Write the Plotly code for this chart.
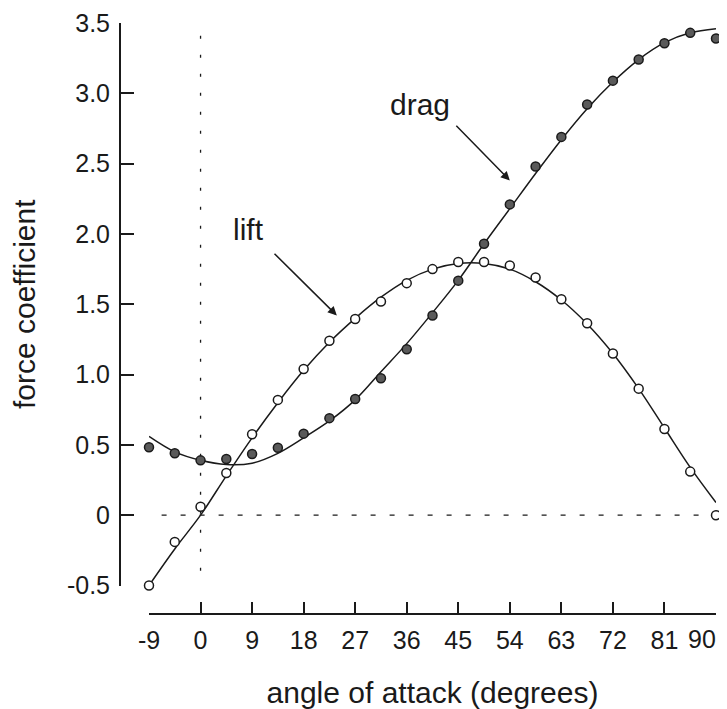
import plotly.graph_objects as go

# ---- data ----
angles = [-9, -4.5, 0, 4.5, 9, 13.5, 18, 22.5, 27, 31.5, 36, 40.5, 45, 49.5,
          54, 58.5, 63, 67.5, 72, 76.5, 81, 85.5, 90]

lift_measured = [-0.50, -0.19, 0.06, 0.30, 0.575, 0.82, 1.04, 1.24, 1.395, 1.52,
                 1.65, 1.75, 1.80, 1.80, 1.775, 1.69, 1.535, 1.365, 1.15, 0.90,
                 0.613, 0.31, 0.0]
drag_measured = [0.483, 0.44, 0.39, 0.40, 0.435, 0.48, 0.58, 0.69, 0.826, 0.974,
                 1.18, 1.42, 1.668, 1.93, 2.21, 2.48, 2.69, 2.92, 3.09, 3.24,
                 3.356, 3.43, 3.39]

lift_curve = [-0.50, -0.24, 0.0, 0.28, 0.55, 0.80, 1.03, 1.23, 1.40, 1.55, 1.67,
              1.75, 1.79, 1.79, 1.75, 1.66, 1.53, 1.36, 1.15, 0.90, 0.62, 0.34, 0.09]
drag_curve = [0.56, 0.45, 0.39, 0.36, 0.37, 0.44, 0.55, 0.67, 0.82, 1.02, 1.22,
              1.44, 1.67, 1.93, 2.18, 2.43, 2.67, 2.89, 3.08, 3.24, 3.36, 3.43, 3.46]

x_ticks = [-9, 0, 9, 18, 27, 36, 45, 54, 63, 72, 81, 90]
x_tick_labels = ["-9", "0", "9", "18", "27", "36", "45", "54", "63", "72", "81", "90"]
y_ticks = [-0.5, 0, 0.5, 1.0, 1.5, 2.0, 2.5, 3.0, 3.5]
y_tick_labels = ["-0.5", "0", "0.5", "1.0", "1.5", "2.0", "2.5", "3.0", "3.5"]

FONT = "Liberation Sans, Arial, Helvetica, sans-serif"
INK = "#1a1a1a"

fig = go.Figure()

# fitted curves
fig.add_trace(go.Scatter(x=angles, y=lift_curve, mode="lines", line_shape="spline",
                         line=dict(color=INK, width=1.5), showlegend=False,
                         cliponaxis=False, hoverinfo="skip"))
fig.add_trace(go.Scatter(x=angles, y=drag_curve, mode="lines", line_shape="spline",
                         line=dict(color=INK, width=1.5), showlegend=False,
                         cliponaxis=False, hoverinfo="skip"))

# measured points
fig.add_trace(go.Scatter(x=angles, y=drag_measured, mode="markers", name="drag",
                         marker=dict(symbol="circle", size=9, color="#5a5a5a",
                                     line=dict(color=INK, width=1.5)),
                         showlegend=False, cliponaxis=False))
fig.add_trace(go.Scatter(x=angles, y=lift_measured, mode="markers", name="lift",
                         marker=dict(symbol="circle", size=9, color="white",
                                     line=dict(color=INK, width=1.5)),
                         showlegend=False, cliponaxis=False))

# dotted reference lines
fig.add_shape(type="line", xref="x", yref="y", x0=0, x1=0, y0=3.41, y1=-0.5,
              line=dict(color=INK, width=1.3, dash="3px,16px"), layer="below")
fig.add_shape(type="line", xref="x", yref="y", x0=-6.8, x1=90, y0=0, y1=0,
              line=dict(color=INK, width=1.3, dash="5px,14px"), layer="below")

# labels with arrows
fig.add_annotation(x=8.3, y=2.03, text="lift", showarrow=False,
                   font=dict(family=FONT, size=30, color=INK))
fig.add_annotation(x=38.3, y=2.92, text="drag", showarrow=False,
                   font=dict(family=FONT, size=30, color=INK))
fig.add_annotation(x=23.8, y=1.42, ax=12.65, ay=1.87, axref="x", ayref="y",
                   text="", showarrow=True, arrowhead=2, arrowsize=1.2,
                   arrowwidth=1.5, arrowcolor=INK)
fig.add_annotation(x=54.0, y=2.38, ax=44.4, ay=2.78, axref="x", ayref="y",
                   text="", showarrow=True, arrowhead=2, arrowsize=1.2,
                   arrowwidth=1.5, arrowcolor=INK)

# the page body adds an 8px offset; layout numbers below are target pixels minus 8
OFF = 8
W, H = 727 - OFF, 709 - OFF
ml, mr, mt, mb = 100 - OFF, W - (716 - OFF), 23 - OFF, 709 - 630
pw, ph = W - ml - mr, H - mt - mb
bottom = H - mb  # figure-y of paper bottom


def fy(target_y):
    return (bottom - (target_y - OFF)) / ph


def fx(target_x):
    return ((target_x - OFF) - ml) / pw


# last x tick label is drawn right-aligned at its tick so it stays inside the page
shown_x_labels = x_tick_labels[:-1] + [""]
fig.add_annotation(x=x_ticks[-1], xref="x", xanchor="right", xshift=1,
                   y=fy(639), yref="paper", yanchor="middle",
                   text=x_tick_labels[-1], showarrow=False, borderpad=0,
                   font=dict(family=FONT, size=25, color=INK))

fig.update_layout(
    template="none",
    width=W, height=H, autosize=False,
    margin=dict(l=ml, r=mr, t=mt, b=mb, autoexpand=False),
    paper_bgcolor="white", plot_bgcolor="white",
    font=dict(family=FONT, color=INK),
    xaxis=dict(
        domain=[fx(149), 1], range=[-9, 90], anchor="free",
        position=fy(614), automargin=False,
        tickmode="array", tickvals=x_ticks, ticktext=shown_x_labels,
        ticks="inside", ticklen=11, tickwidth=1.5, tickcolor=INK,
        showline=True, linecolor=INK, linewidth=1.5,
        showgrid=False, zeroline=False,
        tickfont=dict(family=FONT, size=25, color=INK),
        ticklabelstandoff=4, ticklabeloverflow="allow",
        title=dict(text="angle of attack (degrees)",
                   font=dict(family=FONT, size=30, color=INK), standoff=29),
    ),
    yaxis=dict(
        domain=[fy(585.5), 1], range=[-0.5, 3.5], anchor="free",
        position=fx(120), automargin=False,
        tickmode="array", tickvals=y_ticks, ticktext=y_tick_labels,
        ticks="inside", ticklen=13, tickwidth=1.5, tickcolor=INK,
        showline=True, linecolor=INK, linewidth=2,
        showgrid=False, zeroline=False,
        tickfont=dict(family=FONT, size=25, color=INK),
        ticklabelstandoff=4, ticklabeloverflow="allow",
        title=dict(text="force coefficient",
                   font=dict(family=FONT, size=30, color=INK), standoff=25),
    ),
)

fig.write_html("out.html")
